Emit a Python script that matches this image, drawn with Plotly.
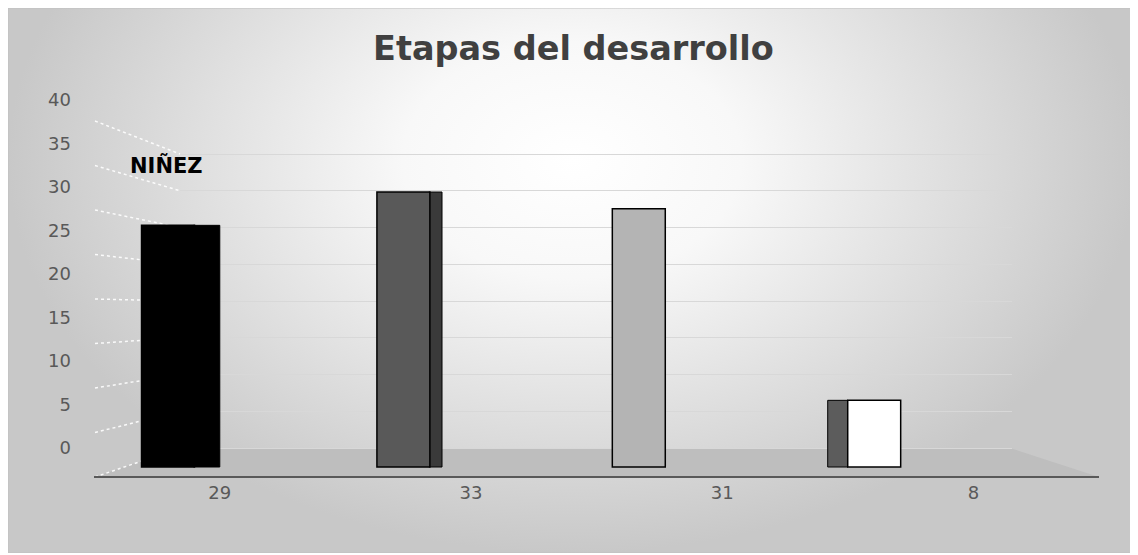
import plotly.graph_objects as go

# ---------------- data ----------------
categories = ["29", "33", "31", "8"]
values = [29, 33, 31, 8]
series_label = "NIÑEZ"
title_text = "Etapas del desarrollo"
y_ticks = [0, 5, 10, 15, 20, 25, 30, 35, 40]

# ---------------- styling ----------------
OFF = 8                      # page body margin of the browser
W, H = 1138 - OFF, 555 - OFF
front_colors = ["#000000", "#595959", "#b4b4b4", "#ffffff"]
side_colors = ["#000000", "#3a3a3a", "#8c8c8c", "#5c5c5c"]
side_offsets = [0.108, 0.108, 0.10, -0.1975]
side_widths = [0.112, 0.056, 0.001, 0.086]
side_lw = [1, 1, 0, 1]
FONT = "DejaVu Sans"


def px(p):
    """screen pixel -> figure pixel"""
    return p - OFF


def vrange(v0, p0, v1, p1, length=H):
    """axis range so that value v0 sits at screen pixel p0 and v1 at p1"""
    p0, p1 = px(p0), px(p1)
    k = (p0 - p1) / (v1 - v0)
    return [v0 - (length - p0) / k, v0 + p0 / k]


def hrange(i0, p0, step, length=W):
    p0 = px(p0)
    return [i0 - p0 / step, i0 + (length - p0) / step]


fig = go.Figure()

# ---- background subplot (figure-pixel coordinates) ----
R, B = px(1136), px(553)
fig.add_trace(go.Scatter(
    x=[0, R, R, 0, 0], y=[B, B, px(-233), px(-233), B], mode="lines", fill="toself",
    line=dict(width=0),
    fillgradient=dict(type="radial",
                      colorscale=[[0, "#ffffff"], [0.3, "#f8f8f8"], [1, "#c8c8c8"]]),
    hoverinfo="skip", showlegend=False, xaxis="x", yaxis="y"))

# floor
fig.add_trace(go.Scatter(
    x=[px(94), px(1099), px(1010), px(180), px(94)],
    y=[px(477), px(477), px(448), px(448), px(477)], mode="lines",
    fill="toself", fillcolor="#bebebe", line=dict(width=0),
    hoverinfo="skip", showlegend=False, xaxis="x", yaxis="y"))

# side-wall guide lines (perspective of each tick level)
for v in y_ticks:
    fig.add_trace(go.Scatter(
        x=[px(95), px(180)], y=[px(477 - 8.9 * v), px(448 - 7.35 * v)], mode="lines",
        line=dict(color="rgba(255,255,255,0.9)", width=1.5, dash="dot"),
        hoverinfo="skip", showlegend=False, xaxis="x", yaxis="y"))

# ---- tick-label subplot ----
fig.add_trace(go.Scatter(x=categories, y=[None] * len(categories), mode="markers",
                         hoverinfo="skip", showlegend=False, xaxis="x2", yaxis="y2"))

# ---- back-wall gridline subplot ----
fig.add_trace(go.Scatter(x=[0], y=[None], mode="markers", hoverinfo="skip",
                         showlegend=False, xaxis="x3", yaxis="y3"))

# ---- bars subplot ----
fig.add_trace(go.Bar(
    x=categories, y=values, offset=side_offsets, width=side_widths,
    marker=dict(color=side_colors, line=dict(color="#000000", width=side_lw)),
    hoverinfo="skip", showlegend=False, xaxis="x4", yaxis="y4"))
fig.add_trace(go.Bar(
    x=categories, y=values, width=0.225, name=series_label,
    marker=dict(color=front_colors, line=dict(color="#000000", width=1.5)),
    showlegend=False, xaxis="x4", yaxis="y4"))

hidden = dict(visible=False, showgrid=False, zeroline=False)

fig.update_layout(
    width=W, height=H, margin=dict(l=0, r=0, t=0, b=0, pad=0),
    paper_bgcolor="#ffffff", plot_bgcolor="rgba(0,0,0,0)",
    barmode="overlay", showlegend=False,
    xaxis=dict(domain=[0, R / W], range=[0, R], fixedrange=True, **hidden),
    yaxis=dict(domain=[1 - B / H, 1], range=[B, 0], fixedrange=True, **hidden),
    xaxis2=dict(domain=[px(94) / W, px(1099) / W], range=[-0.5, 3.5], type="category",
                categoryorder="array", categoryarray=categories,
                anchor="free", position=1 - px(477) / H,
                showline=True, linecolor="#595959", linewidth=1.5,
                showgrid=False, zeroline=False, ticks="",
                ticklabelstandoff=0,
                tickfont=dict(family=FONT, size=18, color="#595959")),
    yaxis2=dict(domain=[0, 1], range=vrange(0, 448, 40, 100), anchor="free",
                position=px(71) / W, tickvals=y_ticks, showline=False, showgrid=False,
                zeroline=False, ticks="",
                tickfont=dict(family=FONT, size=18, color="#595959")),
    xaxis3=dict(domain=[px(180) / W, px(1012) / W], range=[0, 1], anchor="y3", **hidden),
    yaxis3=dict(domain=[0, 1], range=vrange(0, 448, 40, 154), anchor="x3",
                tickvals=y_ticks, showgrid=True, gridcolor="#d8d8d8", gridwidth=1.3,
                showticklabels=False, zeroline=False, showline=False, ticks=""),
    xaxis4=dict(domain=[0, 1], range=hrange(0, 168, 235.4), type="category",
                categoryorder="array", categoryarray=categories, anchor="y4", **hidden),
    yaxis4=dict(domain=[0, 1], range=vrange(0, 467, 33, 192), anchor="x4", **hidden),
    annotations=[
        dict(text=title_text, x=px(573), y=px(48), xref="x", yref="y", showarrow=False,
             xanchor="center", yanchor="middle",
             font=dict(family=FONT, size=33.5, color="#404040", weight="bold")),
        dict(text=series_label, x=px(166), y=px(165), xref="x", yref="y", showarrow=False,
             xanchor="center", yanchor="middle",
             font=dict(family=FONT, size=21, color="#000000", weight="bold")),
    ],
    shapes=[dict(type="rect", xref="x", yref="y", x0=0, x1=R, y0=0, y1=B,
                 line=dict(color="#c0c0c0", width=1), fillcolor="rgba(0,0,0,0)",
                 layer="above")],
)

fig.write_html("out.html")
